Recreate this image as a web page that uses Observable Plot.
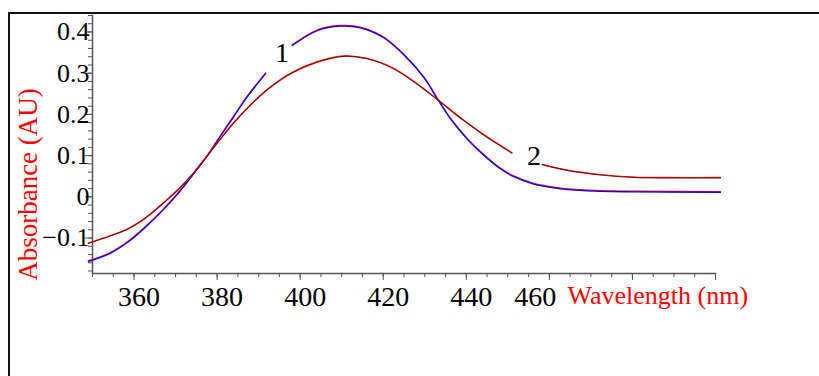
<!DOCTYPE html>
<html><head><meta charset="utf-8">
<script src="https://cdn.jsdelivr.net/npm/d3@7"></script>
<script src="https://cdn.jsdelivr.net/npm/@observablehq/plot@0.6"></script>
<style>
body{margin:0;background:#fff;}
#wrap{position:relative;width:819px;height:376px;overflow:hidden;}
#box{position:absolute;left:8px;top:12px;width:830px;height:390px;border-top:2px solid #111;border-left:2px solid #111;pointer-events:none;}
</style></head><body><div id="wrap"><div id="box"></div></div>
<script>
// Curve 1 (blue, drawn over a red twin) — two segments around label "1"
const wl1a = [349.0,354.3,358.4,362.3,367.1,371.2,374.3,377.7,380.8,383.9,387.3,391.7];
const ab1a = [-0.157,-0.137,-0.111,-0.078,-0.031,0.015,0.055,0.100,0.147,0.193,0.243,0.299];
const wl1b = [398.1,404.1,409.7,414.5,420.1,425.0,429.8,433.0,436.2,440.2,444.2,448.2,451.4,456.2,461.0,468.3,480.3,501.2];
const ab1b = [0.367,0.403,0.414,0.410,0.386,0.344,0.289,0.238,0.189,0.140,0.101,0.068,0.049,0.031,0.022,0.015,0.012,0.011];
// Curve 2 (dark red) — two segments around label "2"
const wl2a = [349.0,354.3,358.4,361.6,364.7,367.1,370.5,374.3,377.7,380.8,383.9,388.0,392.1,397.7,404.1,410.5,416.1,422.5,428.1,433.0,439.4,444.2,451.0];
const ab2a = [-0.113,-0.095,-0.079,-0.060,-0.036,-0.015,0.016,0.057,0.100,0.140,0.178,0.222,0.260,0.299,0.327,0.341,0.335,0.311,0.274,0.236,0.185,0.150,0.106];
const wl2b = [458.3,464.3,472.3,480.3,488.4,501.2];
const ab2b = [0.078,0.064,0.053,0.047,0.046,0.046];
// Curve labels
const curveLabels = ["1","2"];
const curveLabelWl = [395.6,456.3];
const curveLabelAb = [0.348,0.098];
// Ticks
const xMajor = [360,380,400,420,440,460,480,500];
const xTickVals = [360,380,400,420,440,460];
const xTickLabels = ["360","380","400","420","440","460"];
const yMajor = [-0.1,0,0.1,0.2,0.3,0.4];
const yTickLabels = ["\u22120.1","0","0.1","0.2","0.3","0.4"];
const xMinor = d3.range(350,501,5);
const yMinor = d3.range(-18,45,2).map(k=>k/100);

const seg = (wl, ab) => wl.map((x,i)=>({x, y: ab[i]}));
const c1a = seg(wl1a, ab1a), c1b = seg(wl1b, ab1b);
const c2a = seg(wl2a, ab2a), c2b = seg(wl2b, ab2b);
const yLab = new Map(yMajor.map((v,i)=>[v, yTickLabels[i]]));
const axisCol = "#555";
const font = "'Liberation Serif','Times New Roman',serif";

const lineOpts = {x:"x", y:"y", curve:"catmull-rom", strokeWidth:1.3};
const chart = Plot.plot({
  width:819, height:376, marginLeft:92, marginRight:104, marginTop:15, marginBottom:103,
  style:{fontFamily:font, background:"transparent", overflow:"visible"},
  x:{domain:[350,500], label:null},
  y:{domain:[-0.186,0.44], label:null},
  marks:[
    Plot.frame({anchor:"left", stroke:axisCol, strokeWidth:1.5}),
    Plot.frame({anchor:"bottom", stroke:axisCol, strokeWidth:1.5}),
    Plot.axisY(yMinor, {tickSize:4, tickFormat:()=>"", stroke:axisCol, label:null}),
    Plot.axisY(yMajor, {tickSize:7, tickFormat:()=>"", stroke:axisCol, label:null}),
    Plot.axisY(yMajor, {tickSize:0, tickPadding:3, tickFormat:d=>yLab.get(d), fontSize:26, fill:"#000", label:null}),
    Plot.axisX(xMinor, {tickSize:4, tickFormat:()=>"", stroke:axisCol, label:null}),
    Plot.axisX(xMajor, {tickSize:7, tickFormat:()=>"", stroke:axisCol, label:null}),
    Plot.text(xTickVals.slice(0,5), {x:d=>d, frameAnchor:"bottom", text:(d,i)=>xTickLabels[i], dy:32, dx:5, fontSize:28, fill:"#000"}),
    Plot.text(xTickVals.slice(5), {x:d=>d, frameAnchor:"bottom", text:(d,i)=>xTickLabels[5+i], dy:32, dx:-14, fontSize:28, fill:"#000"}),
    Plot.text(["Wavelength (nm)"], {frameAnchor:"bottom-left", text:d=>d, textAnchor:"start", dx:475, dy:30, fontSize:26, fill:"#ff0000"}),
    Plot.text(["Absorbance (AU)"], {frameAnchor:"left", text:d=>d, rotate:-90, textAnchor:"middle", dx:-64, dy:40, fontSize:27, fill:"#ff0000"}),
    // curve 1: red twin beneath, blue on top
    Plot.line(c1a, {...lineOpts, stroke:"#ff0000", dy:-0.7}),
    Plot.line(c1b, {...lineOpts, stroke:"#ff0000", dy:-0.7}),
    Plot.line(c1a, {...lineOpts, stroke:"#0000ff"}),
    Plot.line(c1b, {...lineOpts, stroke:"#0000ff"}),
    // curve 2
    Plot.line(c2a, {...lineOpts, stroke:"#ff2020", dy:-0.5, strokeWidth:1.1}),
    Plot.line(c2b, {...lineOpts, stroke:"#ff2020", dy:-0.5, strokeWidth:1.1}),
    Plot.line(c2a, {...lineOpts, stroke:"#8b0000", strokeWidth:1.2}),
    Plot.line(c2b, {...lineOpts, stroke:"#8b0000", strokeWidth:1.2}),
    Plot.text(curveLabels, {x:(d,i)=>curveLabelWl[i], y:(d,i)=>curveLabelAb[i], text:d=>d, fontSize:28, fill:"#000"})
  ]
});
document.getElementById("wrap").prepend(chart);
</script></body></html>
